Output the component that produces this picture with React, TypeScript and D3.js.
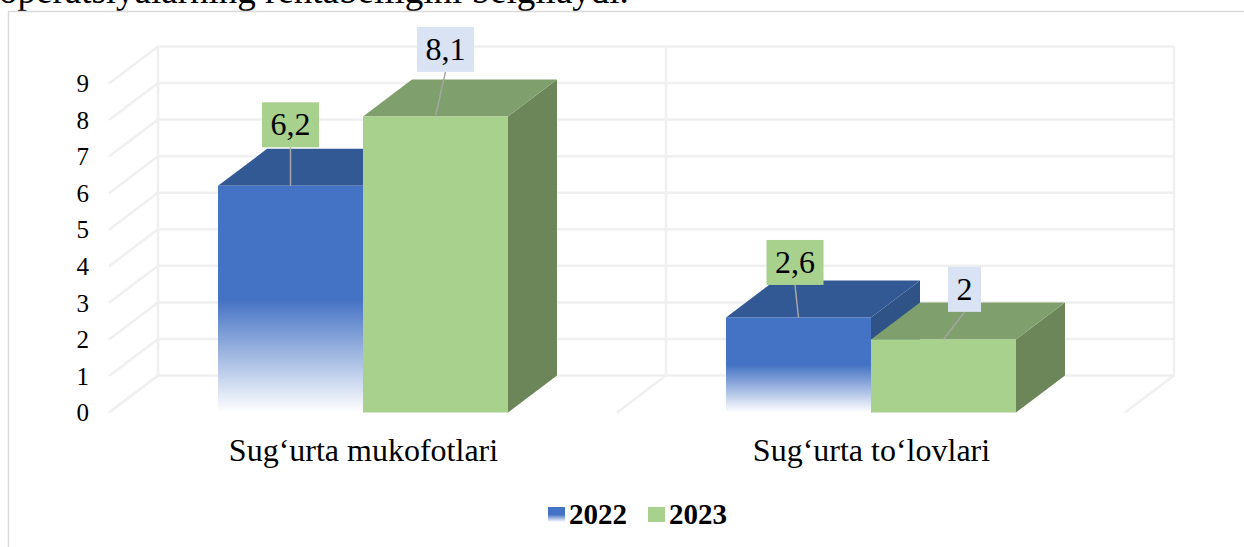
import { useEffect, useRef } from "react";
import * as d3 from "d3";

const categories = ["Sug‘urta mukofotlari", "Sug‘urta to‘lovlari"];
const seriesNames = ["2022", "2023"];
const values2022 = [6.2, 2.6];
const values2023 = [8.1, 2];
const labels2022 = ["6,2", "2,6"];
const labels2023 = ["8,1", "2"];
const yTicks = [0, 1, 2, 3, 4, 5, 6, 7, 8, 9];

const WIDTH = 1244;
const HEIGHT = 547;
const DEPTH_X = 49;
const DEPTH_Y = -37;

// how far each data label box was dragged from the top of its bar
const labelOffsets2022 = [
  { dx: 0, dy: -61, w: 57 },
  { dx: -3.5, dy: -55, w: 57 },
];
const labelOffsets2023 = [
  { dx: 10, dy: -67, w: 57 },
  { dx: 21, dy: -50, w: 33 },
];

const SERIF = "'Liberation Serif', serif";

export default function App() {
  const svgRef = useRef<SVGSVGElement>(null);

  useEffect(() => {
    const svg = d3.select(svgRef.current);
    svg.selectAll("*").remove();

    const xScale = d3.scaleBand().domain(categories).range([109, 1125]);
    const xInner = d3
      .scaleBand()
      .domain(seriesNames)
      .range([0, xScale.bandwidth()])
      .paddingOuter((xScale.bandwidth() - 290) / 2 / 145);
    const yScale = d3.scaleLinear().domain([0, 9]).range([412.5, 83.5]);

    const defs = svg.append("defs");
    const fade = defs
      .append("linearGradient")
      .attr("id", "fade2022")
      .attr("x1", 0)
      .attr("y1", 0)
      .attr("x2", 0)
      .attr("y2", 1);
    fade.append("stop").attr("offset", "0%").attr("stop-color", "#4472c4");
    fade.append("stop").attr("offset", "50%").attr("stop-color", "#4472c4");
    fade.append("stop").attr("offset", "100%").attr("stop-color", "#ffffff");

    // text and frame of the document page behind the chart
    svg
      .append("text")
      .attr("x", -1)
      .attr("y", 3)
      .attr("font-family", SERIF)
      .attr("font-size", 37)
      .attr("fill", "#000")
      .text("operatsiyalarning rentabelligini belgilaydi.");
    svg
      .append("path")
      .attr("d", `M8.5,${HEIGHT}V11.5H${WIDTH}`)
      .attr("fill", "none")
      .attr("stroke", "#d9d9d9")
      .attr("stroke-width", 1.5);

    // Grid: back wall, side wall, floor
    const x0 = xScale(categories[0]) as number;
    const x1 = x0 + xScale.step() * categories.length;
    const grid = svg
      .append("g")
      .attr("fill", "none")
      .attr("stroke", "#f0f0f0")
      .attr("stroke-width", 2.5);

    yTicks.forEach((t) => {
      const y = yScale(t);
      grid
        .append("path")
        .attr("d", `M${x0},${y}L${x0 + DEPTH_X},${y + DEPTH_Y}H${x1 + DEPTH_X}`);
    });

    const wallTop = yScale(9) + DEPTH_Y;
    const wallBottom = yScale(0) + DEPTH_Y;
    d3.range(categories.length + 1).forEach((i) => {
      const x = x0 + i * xScale.step();
      grid
        .append("path")
        .attr(
          "d",
          `M${x},${yScale(0)}L${x + DEPTH_X},${wallBottom}V${wallTop}`
        );
    });

    // Axis labels
    svg
      .append("g")
      .selectAll("text")
      .data(yTicks)
      .join("text")
      .attr("x", 89)
      .attr("y", (d) => yScale(d))
      .attr("dy", ".35em")
      .attr("text-anchor", "end")
      .attr("font-family", SERIF)
      .attr("font-size", 25)
      .text((d) => d);

    svg
      .append("g")
      .selectAll("text")
      .data(categories)
      .join("text")
      .attr("x", (d) => (xScale(d) as number) + xScale.bandwidth() / 2 + 0.5)
      .attr("y", 461)
      .attr("text-anchor", "middle")
      .attr("font-family", SERIF)
      .attr("font-size", 32)
      .text((d) => d);

    // Bars
    const series = [
      {
        name: seriesNames[0],
        values: values2022,
        front: "url(#fade2022)",
        top: "#335995",
        side: "#2f5287",
      },
      {
        name: seriesNames[1],
        values: values2023,
        front: "#a9d18e",
        top: "#7fa06c",
        side: "#6c8659",
      },
    ];
    const barWidth = xInner.bandwidth();

    categories.forEach((cat, i) => {
      const g = svg.append("g");
      series.forEach((s) => {
        const x = (xScale(cat) as number) + (xInner(s.name) as number);
        const yTop = yScale(s.values[i]);
        const yBase = yScale(0);
        g.append("path")
          .attr(
            "d",
            `M${x + barWidth},${yTop}l${DEPTH_X},${DEPTH_Y}V${yBase + DEPTH_Y}L${x + barWidth},${yBase}Z`
          )
          .attr("fill", s.side);
        g.append("path")
          .attr(
            "d",
            `M${x},${yTop}l${DEPTH_X},${DEPTH_Y}h${barWidth}l${-DEPTH_X},${-DEPTH_Y}Z`
          )
          .attr("fill", s.top);
        g.append("rect")
          .attr("x", x)
          .attr("y", yTop)
          .attr("width", barWidth)
          .attr("height", yBase - yTop)
          .attr("fill", s.front);
      });
    });

    // Data labels with leader lines
    const labelSets = [
      { name: seriesNames[0], values: values2022, texts: labels2022, offsets: labelOffsets2022, fill: "#a9d18e" },
      { name: seriesNames[1], values: values2023, texts: labels2023, offsets: labelOffsets2023, fill: "#dae3f3" },
    ];
    const boxH = 45;
    labelSets.forEach((set) => {
      categories.forEach((cat, i) => {
        const barX = (xScale(cat) as number) + (xInner(set.name) as number) + barWidth / 2;
        const yTop = yScale(set.values[i]);
        const off = set.offsets[i];
        const cx = barX + off.dx;
        const cy = yTop + off.dy;
        svg
          .append("line")
          .attr("x1", barX)
          .attr("y1", yTop)
          .attr("x2", cx)
          .attr("y2", cy + boxH / 2)
          .attr("stroke", "#a6a6a6")
          .attr("stroke-width", 1.5);
        svg
          .append("rect")
          .attr("x", cx - off.w / 2)
          .attr("y", cy - boxH / 2)
          .attr("width", off.w)
          .attr("height", boxH)
          .attr("fill", set.fill);
        svg
          .append("text")
          .attr("x", cx)
          .attr("y", cy)
          .attr("dy", ".33em")
          .attr("text-anchor", "middle")
          .attr("font-family", SERIF)
          .attr("font-size", 32)
          .text(set.texts[i]);
      });
    });

    // Legend
    const legendX = d3.scaleOrdinal<string, number>().domain(seriesNames).range([548, 648]);
    const legendFills = ["url(#fade2022)", "#a9d18e"];
    seriesNames.forEach((name, i) => {
      const lx = legendX(name);
      svg
        .append("rect")
        .attr("x", lx)
        .attr("y", 507)
        .attr("width", 17)
        .attr("height", 15)
        .attr("fill", legendFills[i]);
      svg
        .append("text")
        .attr("x", lx + 21)
        .attr("y", 524)
        .attr("font-family", SERIF)
        .attr("font-weight", "bold")
        .attr("font-size", 29)
        .text(name);
    });
  }, []);

  return (
    <svg
      ref={svgRef}
      width={WIDTH}
      height={HEIGHT}
      style={{ position: "absolute", left: 0, top: 0, background: "#fff" }}
    />
  );
}
